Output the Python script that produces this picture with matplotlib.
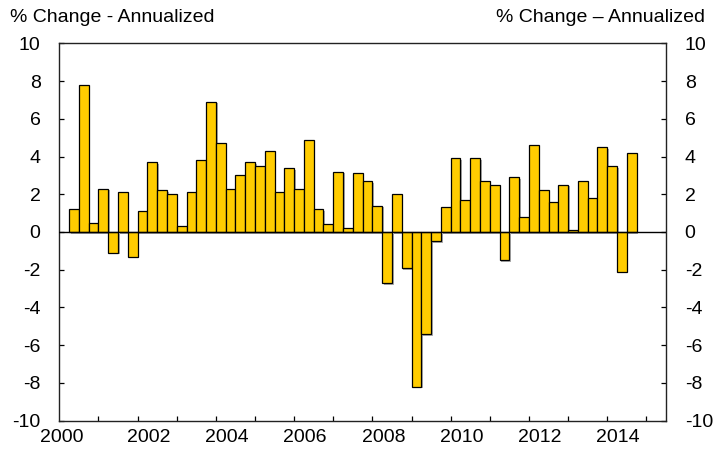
import numpy as np
import matplotlib
matplotlib.use('Agg')
import matplotlib.pyplot as plt
import matplotlib.patheffects as pe

plt.rcParams['font.family'] = ['Liberation Sans', 'DejaVu Sans']

# quarterly real GDP growth, % change annualized, 2000Q1 - 2014Q2
gdp = [1.2, 7.8, 0.5, 2.3,
       -1.1, 2.1, -1.3, 1.1,
       3.7, 2.2, 2.0, 0.3,
       2.1, 3.8, 6.9, 4.7,
       2.3, 3.0, 3.7, 3.5,
       4.3, 2.1, 3.4, 2.3,
       4.9, 1.2, 0.4, 3.2,
       0.2, 3.1, 2.7, 1.4,
       -2.7, 2.0, -1.9, -8.2,
       -5.4, -0.5, 1.3, 3.9,
       1.7, 3.9, 2.7, 2.5,
       -1.5, 2.9, 0.8, 4.6,
       2.2, 1.6, 2.5, 0.1,
       2.7, 1.8, 4.5, 3.5,
       -2.1, 4.2]
label_years = [2000, 2002, 2004, 2006, 2008, 2010, 2012, 2014]

gold = '#FFCC00'

fig = plt.figure(figsize=(7.13, 4.5), dpi=100)
ax = fig.add_axes([0.0832, 0.0651, 0.8508, 0.8387])

# bars sit one quarter to the right of the year tick, like the source chart
x = 2000.25 + 0.25 * np.arange(len(gdp))
bars = ax.bar(x, gdp, width=0.25, align='edge', color=gold,
              edgecolor='black', linewidth=0.9, zorder=3)
for b in bars:
    b.set_path_effects([pe.SimplePatchShadow(offset=(1.2, -1.2), shadow_rgbFace='#777777', alpha=0.6),
                        pe.Normal()])

ax.axhline(0, color='black', lw=1.0, zorder=4)

ax.set_xlim(2000, 2015.5)
ax.set_ylim(-10, 10)

# year tick marks, labels sit slightly to the right of them
ax.set_xticks(np.arange(2001, 2016), minor=True)
ax.set_xticks([y + (0.05 if y == 2000 else 0.28) for y in label_years])
ax.set_xticklabels([str(y) for y in label_years], fontsize=14)
ax.tick_params(axis='x', which='major', length=0, pad=6)
ax.tick_params(axis='x', which='minor', direction='in', length=3.6, width=0.9)

yt = np.arange(-10, 11, 2)
ax.set_yticks(yt)
ax.set_yticklabels([str(v) for v in yt], fontsize=14)
ax.tick_params(axis='y', direction='in', length=3.6, width=0.9, pad=13.5,
               right=True, labelright=True)
for t in ax.yaxis.get_major_ticks():
    t.label2.set_horizontalalignment('left')
    t.label2.set_fontsize(14)

for s in ax.spines.values():
    s.set_linewidth(1.0)
    s.set_color('#222222')

fig.text(10 / 713, 1 - 17 / 450, '% Change - Annualized', fontsize=14, va='center', ha='left')
fig.text(705 / 713, 1 - 17 / 450, '% Change \u2013 Annualized', fontsize=14, va='center', ha='right')

fig.savefig('out.png', dpi=100)
